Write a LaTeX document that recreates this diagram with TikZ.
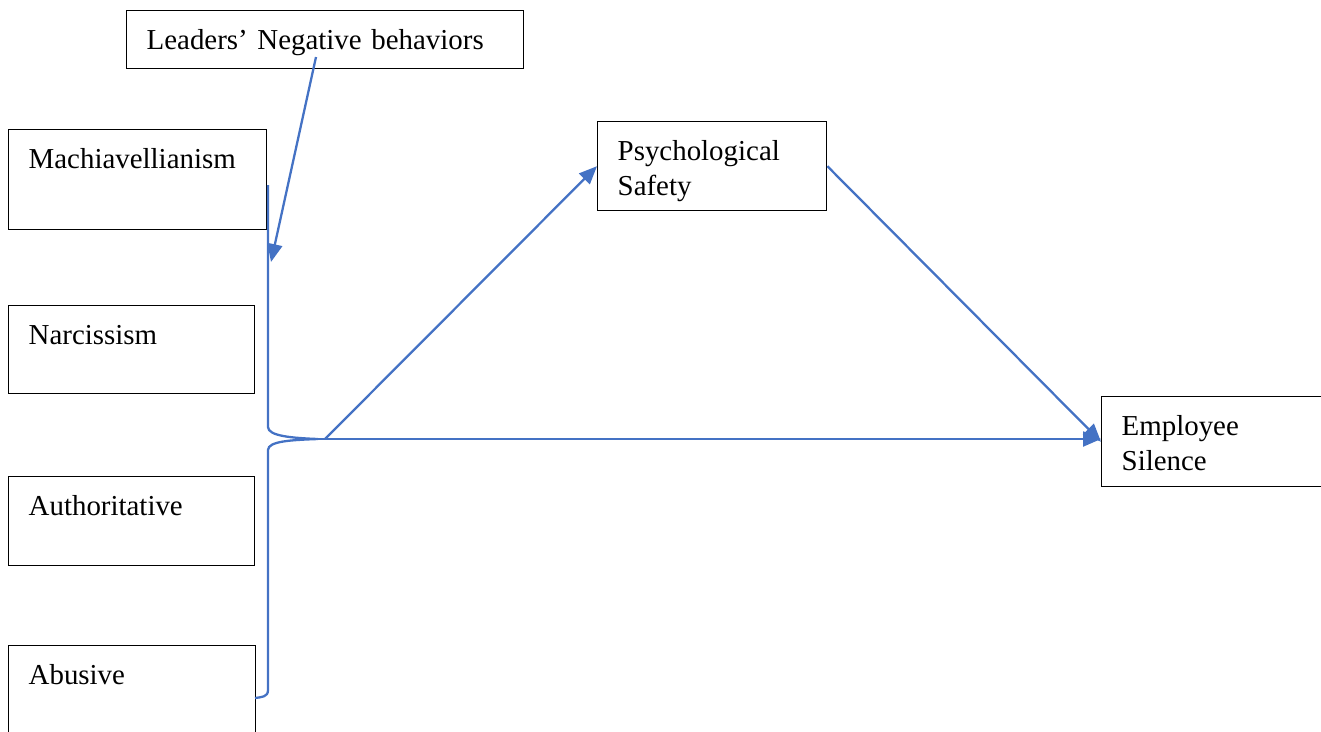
\documentclass[tikz,border=0pt]{standalone}
\usepackage{fontspec}
\setmainfont{Liberation Serif}
\usetikzlibrary{arrows.meta}
\definecolor{linkblue}{RGB}{68,114,196}

\begin{document}
\begin{tikzpicture}[
x=0.02cm, y=-0.02cm,
every node/.style={font=\fontsize{16.45}{20}\selectfont},
var box/.style={draw, line width=0.8pt, anchor=north west, align=left, inner xsep=0.4cm, inner ysep=0pt, text height=0.77cm},
link/.style={draw=linkblue, line width=1.3pt},
arrow/.style={link, -{Triangle[length=0.36cm, width=0.3cm]}},
]
\useasboundingbox (0,0) rectangle (1321,731);

% Moderator box at the top
\node[var box, text width=7.14cm, text depth=0.39cm] (leaders) at (126,10) {Leaders' Negative behaviors};

% Four leader styles on the left
\node[var box, text width=4.36cm, text depth=1.23cm] (mach) at (8,129) {Machiavellianism};
\node[var box, text width=4.12cm, text depth=0.99cm] (narc) at (8,305) {Narcissism};
\node[var box, text width=4.12cm, text depth=1.01cm] (auth) at (8,476) {Authoritative};
\node[var box, text width=4.14cm, text depth=1.11cm] (abus) at (8,645) {Abusive};

% Mediator and outcome
\node[var box, text width=3.78cm, text depth=1.01cm] (psafe) at (597,121) {Psychological\\Safety};
\node[var box, text width=3.6cm, text depth=1.03cm] (silence) at (1101,396) {Employee\\Silence};

% Brace grouping the four styles
\coordinate (bracetop) at (268,185);
\coordinate (bracetip) at (318,439);
\coordinate (braceend) at (255,698);
\coordinate (bracein) at (271,262);
\coordinate (lnbfoot) at (316,57);
\draw[link] (bracetop) -- (268,427) .. controls (268,436) and (292,438) .. (bracetip)
  .. controls (292,440) and (268,441) .. (268,450) -- (268,690)
  .. controls (268,697) and (262,697) .. (braceend);

% Arrows
\draw[arrow] (lnbfoot) -- (bracein);
\draw[arrow] (bracetip) -- (silence.west |- bracetip);
\draw[arrow] ([xshift=0.14cm]bracetip) -- (psafe.west);
\draw[arrow] (psafe.east) -- (silence.west);
\end{tikzpicture}
\end{document}
